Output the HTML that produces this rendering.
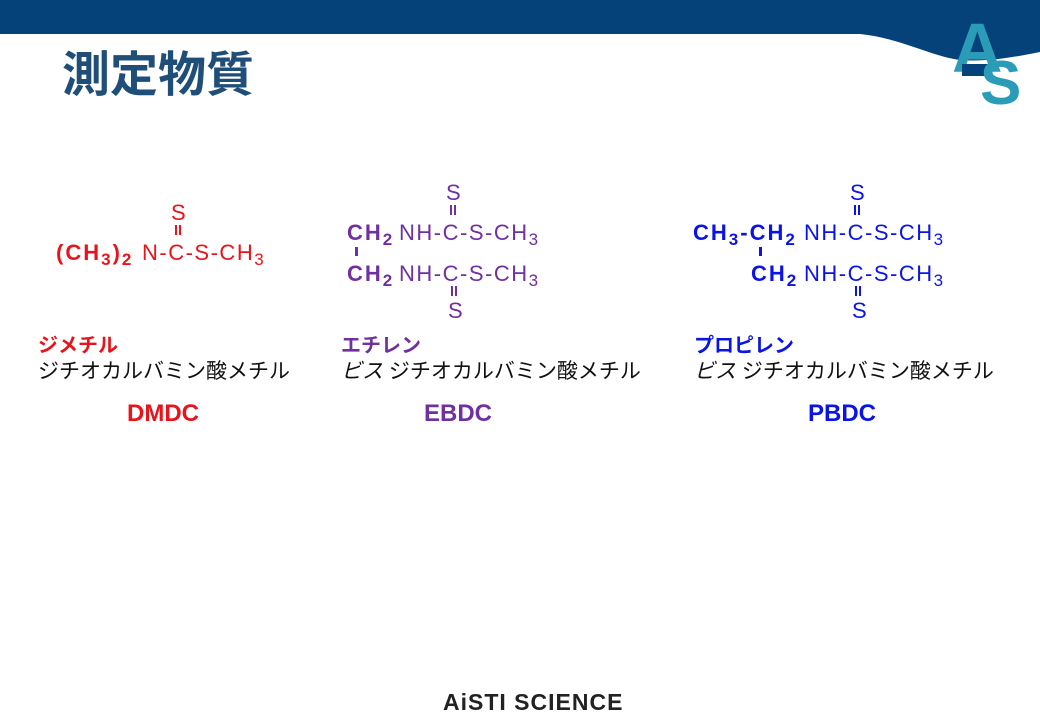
<!DOCTYPE html>
<html><head><meta charset="utf-8"><style>
body{margin:0;width:1040px;height:720px;position:relative;background:#fff;overflow:hidden;font-family:"Liberation Sans","Noto Sans CJK JP",sans-serif}
.t{position:absolute;white-space:nowrap;font-size:22px;line-height:1}
.n{letter-spacing:1.5px}
.b{font-weight:bold;letter-spacing:2px}
sub{font-size:17px;vertical-align:-5px;line-height:0}
.r{color:#e8141c}.p{color:#7030a0}.u{color:#0a14e6}
.k{color:#111;font-size:21px}
.lbl{font-size:20px;font-weight:bold}
.ab{font-size:24px;font-weight:bold}
.db{position:absolute;width:2px;height:10px;border-left:2px solid;border-right:2px solid;box-sizing:content-box}
.bar{position:absolute;width:3px;height:9px}
</style></head><body>
<svg width="1040" height="120" style="position:absolute;left:0;top:0">
<path d="M0 0H1040V52C1010 58 985 62 960 60C930 56 900 38 860 34H0Z" fill="#05427a"/>
<text x="952" y="72" font-family="Liberation Sans" font-weight="bold" font-size="70" fill="#2a9cb8">A</text>
<rect x="962" y="64" width="30" height="12" fill="#05427a"/>
<text x="980" y="104" font-family="Liberation Sans" font-weight="bold" font-size="62" fill="#2a9cb8">S</text>
</svg>
<div class="t" style="left:62px;top:52px;font-size:48px;font-weight:bold;color:#1f4e79">測定物質</div>

<!-- DMDC -->
<div class="t r" style="left:171px;top:202px">S</div>
<div class="db r" style="left:175px;top:225px;border-color:#e8141c"></div>
<div class="t r b" style="left:56px;top:242px">(CH<sub>3</sub>)<sub>2</sub></div>
<div class="t r n" style="left:142px;top:242px">N-C-S-CH<sub>3</sub></div>
<div class="t lbl r" style="left:38px;top:336px">ジメチル</div>
<div class="t k" style="left:38px;top:361px">ジチオカルバミン酸メチル</div>
<div class="t ab r" style="left:127px;top:402px">DMDC</div>

<!-- EBDC -->
<div class="t p" style="left:446px;top:182px">S</div>
<div class="db p" style="left:450px;top:205px;border-color:#7030a0"></div>
<div class="t p b" style="left:347px;top:222px">CH<sub>2</sub></div>
<div class="t p n" style="left:399px;top:222px">NH-C-S-CH<sub>3</sub></div>
<div class="bar" style="left:355px;top:247px;background:#7030a0"></div>
<div class="t p b" style="left:347px;top:263px">CH<sub>2</sub></div>
<div class="t p n" style="left:399px;top:263px">NH-C-S-CH<sub>3</sub></div>
<div class="db p" style="left:451px;top:286px;border-color:#7030a0"></div>
<div class="t p" style="left:448px;top:300px">S</div>
<div class="t lbl p" style="left:341px;top:336px">エチレン</div>
<div class="t k" style="left:341px;top:361px"><i>ビス</i> ジチオカルバミン酸メチル</div>
<div class="t ab p" style="left:424px;top:402px">EBDC</div>

<!-- PBDC -->
<div class="t u" style="left:850px;top:182px">S</div>
<div class="db u" style="left:854px;top:205px;border-color:#0a14e6"></div>
<div class="t u b" style="left:693px;top:222px">CH<sub>3</sub>-CH<sub>2</sub></div>
<div class="t u n" style="left:804px;top:222px">NH-C-S-CH<sub>3</sub></div>
<div class="bar" style="left:759px;top:247px;background:#0a14e6"></div>
<div class="t u b" style="left:751px;top:263px">CH<sub>2</sub></div>
<div class="t u n" style="left:804px;top:263px">NH-C-S-CH<sub>3</sub></div>
<div class="db u" style="left:855px;top:286px;border-color:#0a14e6"></div>
<div class="t u" style="left:852px;top:300px">S</div>
<div class="t lbl u" style="left:694px;top:336px">プロピレン</div>
<div class="t k" style="left:694px;top:361px"><i>ビス</i> ジチオカルバミン酸メチル</div>
<div class="t ab u" style="left:808px;top:402px">PBDC</div>

<div class="t" style="left:443px;top:691px;font-size:23px;font-weight:bold;color:#222;letter-spacing:1px">AiSTI SCIENCE</div>
</body></html>
